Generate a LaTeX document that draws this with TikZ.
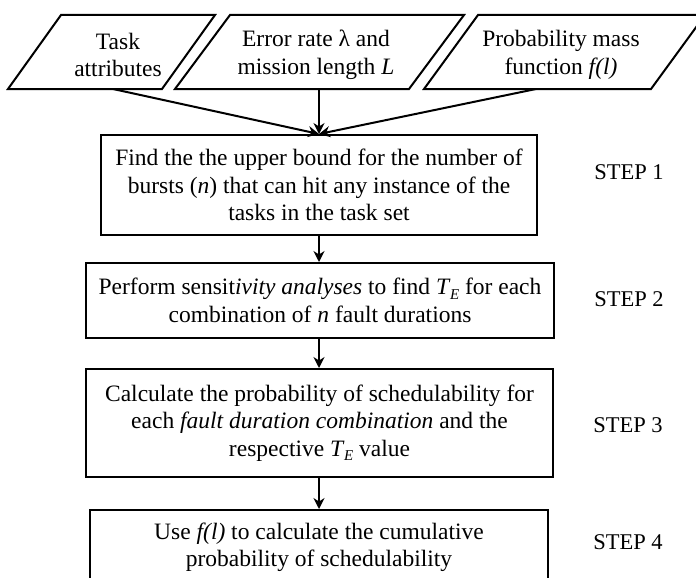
\documentclass[tikz,border=0pt]{standalone}
\usepackage{fontspec}
\setmainfont{Liberation Serif}
\usetikzlibrary{arrows.meta}
\newcommand{\TE}{\textit{T}\kern-0.5pt\raisebox{-0.4ex}{\fontsize{15}{15}\selectfont\textit{E}}}
\begin{document}
\begin{tikzpicture}[x=1pt,y=-1pt,
  every node/.style={font=\fontsize{23.5}{27.5}\selectfont, inner sep=0pt, align=center},
  stepbox/.style={draw, line width=2pt},
  steplabel/.style={font=\fontsize{22.5}{27}\selectfont},
  para/.style={draw, line width=2pt, line join=miter},
  arr/.style={line width=2pt, -{Stealth[length=11pt,width=11pt]}}]
\useasboundingbox (0,0) rectangle (696,578);
\clip (0,0) rectangle (696,578);
% input parallelograms
\draw[para] (8,89) -- (162,89) -- (215,15) -- (61,15) -- cycle;
\draw[para] (175,89) -- (409,89) -- (464,15) -- (230,15) -- cycle;
\draw[para] (424,89) -- (651,89) -- (705,15) -- (478,15) -- cycle;
\node (p1) at (118,55) {Task\\attributes};
\node (p2) at (316,55) {Error rate λ and\\mission length \textit{L}};
\node (p3) at (561,55) {Probability mass\\function \textit{f(l)}};
\coordinate (p1s) at (113,89);
\coordinate (p2s) at (319,89);
\coordinate (p3s) at (536,89);
% step boxes
\node[stepbox, minimum width=436, minimum height=100] (b1) at (319,185)
  {Find the the upper bound for the number of\\bursts (\textit{n}) that can hit any instance of the\\tasks in the task set};
\node[stepbox, minimum width=468, minimum height=75] (b2) at (320,300.5)
  {Perform sensit\textit{ivity analyses} to find \TE{} for each\\combination of \textit{n} fault durations};
\node[stepbox, minimum width=467, minimum height=108] (b3) at (319.5,423)
  {Calculate the probability of schedulability for\\each \textit{fault duration combination} and the\\respective \TE{} value};
\node[stepbox, minimum width=458, minimum height=75] (b4) at (319,547.5)
  {Use \textit{f(l)} to calculate the cumulative\\probability of schedulability};
% labels
\node[steplabel] (s1) at (629,172) {STEP 1};
\node[steplabel] (s2) at (629,299) {STEP 2};
\node[steplabel] (s3) at (628,425) {STEP 3};
\node[steplabel] (s4) at (628,542) {STEP 4};
% connectors
\draw[arr] (p1s) -- (b1.north);
\draw[arr] (p2s) -- (b1.north);
\draw[arr] (p3s) -- (b1.north);
\draw[arr] (b1.south) -- (b1.south |- b2.north);
\draw[arr] (b1.south |- b2.south) -- (b1.south |- b3.north);
\draw[arr] (b1.south |- b3.south) -- (b1.south |- b4.north);
\end{tikzpicture}
\end{document}
